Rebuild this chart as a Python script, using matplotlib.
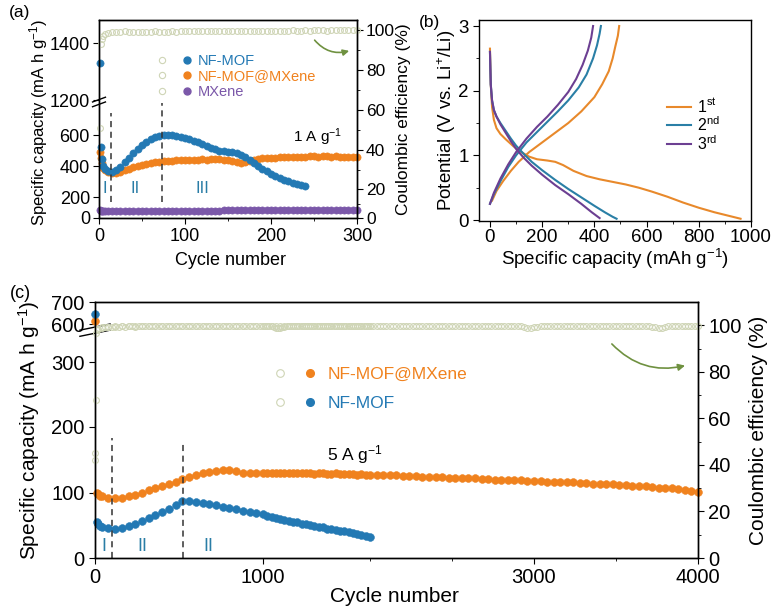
import numpy as np
import matplotlib.pyplot as plt
from matplotlib.lines import Line2D
from matplotlib.legend_handler import HandlerTuple

plt.rcParams['font.family'] = ['Liberation Sans', 'DejaVu Sans']
plt.rcParams['mathtext.fontset'] = 'custom'
plt.rcParams['mathtext.rm'] = 'Liberation Sans'
plt.rcParams['mathtext.it'] = 'Liberation Sans:italic'
plt.rcParams['axes.linewidth'] = 1.0
plt.rcParams['xtick.major.size'] = 4
plt.rcParams['ytick.major.size'] = 4
plt.rcParams['xtick.minor.size'] = 2.5
plt.rcParams['ytick.minor.size'] = 2.5

BLUE = '#2379b4'
ORANGE = '#f0821e'
PURPLE = '#7b58a9'
CE_COL = '#cfd5b6'
ROMAN = '#2a7da6'
ARROW = '#6f9140'

# ---------------- (a) cycling at 1 A/g ----------------
cycles_a = [1, 2, 3, 5, 7] + list(range(10, 301, 5))
cap_nfmof_a = [1330, 520, 445, 400, 380,
               368, 362, 372, 395, 425, 455, 485, 510, 535, 555,
               572, 585, 594, 600, 602, 600, 596, 590, 582, 572,
               562, 552, 541, 530, 518, 508, 500, 496, 492, 488,
               482, 472, 458, 440, 420, 400, 382, 365, 350, 336,
               324, 312, 302, 293, 285, 278, 272]
cap_comp_a = [490, 450, 420, 390, 372,
              360, 352, 355, 362, 372, 382, 392, 400, 408, 415,
              420, 425, 428, 430, 432, 434, 436, 438, 440, 440,
              442, 441, 443, 442, 444, 443, 444, 440, 436, 430,
              424, 420, 424, 432, 440, 446, 450, 452, 454, 455,
              456, 457, 458, 459, 460, 460, 461, 462, 462, 461,
              462, 462, 461, 462, 461, 461, 460, 460, 460]
cap_mxene_a = [75, 70, 68, 66, 65,
               64, 64, 64, 64, 65, 65, 65, 65, 66, 66,
               66, 66, 67, 67, 67, 68, 68, 68, 69, 69,
               69, 70, 70, 70, 71, 71, 71, 72, 72, 72,
               73, 73, 73, 74, 74, 74, 74, 75, 75, 75,
               75, 76, 76, 76, 76, 76, 77, 77, 77, 77,
               77, 77, 78, 78, 78, 78, 78, 78, 78]
ce_a = [51, 93, 95.5, 97, 98,
        98.4, 98.8, 99.0, 99.1, 99.3, 99.2, 99.0, 99.1, 99.2, 99.1,
        99.2, 99.3, 99.2, 99.1, 99.2, 99.3, 99.2, 99.3, 99.4, 99.3,
        99.4, 99.3, 99.4, 99.5, 99.4, 99.4, 99.5, 99.4, 99.5, 99.5,
        99.6, 99.5, 99.6, 99.5, 99.6, 99.6, 99.7, 99.6, 99.6, 99.7,
        99.6, 99.7, 99.7, 99.8, 99.7, 99.7, 99.8, 99.7, 99.8, 99.8,
        99.8, 99.7, 99.8, 99.8, 99.9, 99.8, 99.8, 99.9, 99.8]

# ---------------- (b) charge/discharge profiles ----------------
dis1_cap = [0, 3, 8, 15, 25, 40, 60, 90, 120, 150, 180, 220, 250, 280, 320, 370,
            420, 470, 520, 570, 620, 680, 740, 800, 860, 920, 960]
dis1_v = [2.65, 2.1, 1.75, 1.55, 1.42, 1.33, 1.25, 1.14, 1.05, 0.98, 0.94, 0.92, 0.9,
          0.85, 0.76, 0.68, 0.63, 0.59, 0.55, 0.5, 0.44, 0.36, 0.27, 0.19, 0.12, 0.06, 0.02]
chg1_cap = [8, 25, 50, 80, 110, 150, 200, 250, 300, 350, 400, 430, 455, 470, 480, 490, 495]
chg1_v = [0.3, 0.45, 0.6, 0.76, 0.9, 1.05, 1.2, 1.35, 1.5, 1.68, 1.9, 2.1, 2.3, 2.5, 2.68, 2.85, 3.0]
dis2_cap = [0, 3, 8, 15, 25, 40, 60, 80, 100, 130, 160, 200, 250, 300, 350, 400, 440, 470, 485]
dis2_v = [2.6, 2.1, 1.85, 1.7, 1.6, 1.5, 1.38, 1.26, 1.15, 1.02, 0.9, 0.77, 0.62, 0.48,
          0.35, 0.22, 0.12, 0.05, 0.02]
chg2_cap = [0, 15, 40, 70, 100, 140, 180, 220, 260, 300, 340, 370, 395, 410, 420, 425]
chg2_v = [0.25, 0.4, 0.6, 0.82, 1.0, 1.2, 1.36, 1.52, 1.68, 1.85, 2.05, 2.25, 2.5, 2.7, 2.88, 3.0]
dis3_cap = [0, 3, 8, 15, 25, 40, 60, 80, 100, 130, 160, 200, 250, 300, 350, 390, 420]
dis3_v = [2.6, 2.1, 1.85, 1.7, 1.6, 1.48, 1.35, 1.22, 1.1, 0.96, 0.84, 0.7, 0.54, 0.4,
          0.25, 0.12, 0.03]
chg3_cap = [0, 15, 40, 70, 100, 140, 180, 220, 260, 300, 330, 355, 375, 388, 395]
chg3_v = [0.25, 0.42, 0.64, 0.86, 1.05, 1.26, 1.44, 1.6, 1.78, 1.98, 2.18, 2.4, 2.62, 2.82, 3.0]

# ---------------- (c) long cycling at 5 A/g ----------------
cycles_c = [1, 10, 20, 30] + list(range(40, 4001, 40))
cap_comp_c = [615, 100, 98, 96,
              95, 93, 92, 93, 95, 97, 100, 104, 107, 110, 114, 117, 121, 124, 127,
              130, 132, 134, 135, 135, 133, 131, 130, 130, 130,
              130, 131, 130, 130, 131, 130, 130, 130, 131, 130, 130, 129, 130, 130,
              129, 129, 130, 129, 129, 129, 129, 128, 129, 128, 128,
              128, 127, 127, 127, 126, 126, 126, 125, 125, 124, 124, 123, 123, 122,
              122, 122, 121, 121, 120, 120, 120, 119, 119, 118, 118,
              118, 117, 117, 117, 116, 116, 115, 115, 114, 114, 113, 113, 112, 112,
              111, 111, 110, 109, 108, 108, 107, 106, 105, 103, 102]
cap_nfmof_c = [645, 55, 52, 50,
               48, 46, 45, 46, 49, 53, 57, 62, 66, 71, 76, 82, 87, 88, 86, 85,
               83, 81, 79, 77, 75, 73, 71, 69, 67,
               65, 63, 62, 60, 59, 57, 56, 55, 53, 52, 51, 49, 48, 47, 45, 44,
               43, 42, 41, 40, 38, 37, 36, 34, 33]
ce_cycles_c = [1, 5, 10] + list(range(20, 4001, 20))
ce_comp_c = [45, 96.5, 98.2,
             98.6, 99.0, 99.2, 99.3, 99.4, 99.3, 99.4, 99.5, 99.4, 99.5, 99.5, 99.4, 99.5, 99.6, 99.5, 99.5, 99.6, 99.5, 99.6, 99.6,
             99.5, 99.6, 99.6, 99.5, 99.6, 99.7, 99.6, 99.6, 99.7, 99.6, 99.6, 99.7, 99.6, 99.7, 99.7, 99.6, 99.7, 99.7, 99.6, 99.7,
             99.7, 99.6, 99.7, 99.7, 99.6, 99.7, 99.7, 99.6, 99.7, 99.7, 99.6, 99.7, 99.6, 99.5, 99.3, 99.0, 98.8, 98.9, 99.1, 99.3,
             99.5, 99.6, 99.6, 99.7, 99.7, 99.7, 99.6, 99.7, 99.7, 99.8, 99.7, 99.7, 99.6, 99.7, 99.7, 99.8, 99.7, 99.7, 99.7, 99.6,
             99.7, 99.7, 99.8, 99.7, 99.7, 99.6, 99.7, 99.7, 99.8, 99.7, 99.7, 99.7, 99.6, 99.7, 99.8, 99.7, 99.7, 99.7, 99.6, 99.7,
             99.7, 99.8, 99.7, 99.7, 99.6, 99.7, 99.7, 99.8, 99.7, 99.7, 99.6, 99.7, 99.7, 99.8, 99.7, 99.7, 99.6, 99.7, 99.7, 99.8,
             99.7, 99.7, 99.8, 99.7, 99.7, 99.6, 99.7, 99.8, 99.7, 99.7, 99.7, 99.8, 99.7, 99.7, 99.6, 99.7, 99.7, 99.8, 99.7, 99.7,
             99.7, 99.8, 99.7, 99.7, 99.7, 99.6, 99.3, 99.0, 98.9, 99.1, 99.4, 99.6, 99.7, 99.7, 99.8, 99.7, 99.7, 99.8, 99.7, 99.7,
             99.7, 99.7, 99.7, 99.8, 99.7, 99.7, 99.7, 99.8, 99.7, 99.7, 99.6, 99.7, 99.7, 99.8, 99.7, 99.7, 99.7, 99.8, 99.7, 99.7,
             99.7, 99.8, 99.7, 99.7, 99.6, 99.4, 99.1, 98.9, 99.0, 99.2, 99.5, 99.7, 99.7, 99.8, 99.7, 99.7, 99.8, 99.7, 99.7, 99.8]
ce_nf_cycles_c = [1, 3, 10] + list(range(40, 2001, 40))
ce_nfmof_c = [42, 68, 97.8,
              99.2, 99.4, 99.5, 99.5, 99.6, 99.5, 99.6, 99.6, 99.5, 99.6,
              99.6, 99.7, 99.6, 99.6, 99.7, 99.6, 99.7, 99.7, 99.6, 99.7,
              99.7, 99.6, 99.7, 99.7, 99.6, 99.7, 99.7, 99.6, 99.7, 99.7,
              99.7, 99.6, 99.7, 99.7, 99.7, 99.6, 99.7, 99.7, 99.7, 99.6,
              99.7, 99.7, 99.6, 99.7, 99.7, 99.7, 99.6, 99.7, 99.7, 99.7]


def broken(vals, pix):
    # piecewise linear axis (compressed / broken regions of the original)
    return (lambda v: np.interp(v, vals, pix), lambda p: np.interp(p, pix, vals))


def break_marks(ax, y):
    for dy in (-0.012, 0.012):
        ax.plot([-0.025, 0.025], [y + dy - 0.012, y + dy + 0.012], transform=ax.transAxes,
                color='k', lw=1.0, clip_on=False, zorder=10)


def dots(ax, x, y, color, ms=5.2):
    ax.plot(x, y, ls='none', marker='o', ms=ms, mfc=color, mec=color, mew=0.4, clip_on=False)


def hollow(ax, x, y, ms=4.2):
    ax.plot(x, y, ls='none', marker='o', ms=ms, mfc='none', mec=CE_COL, mew=0.8, clip_on=False)


fig = plt.figure(figsize=(7.71, 6.06), dpi=100)

# ===== panel (a)
ax_a = fig.add_axes([99 / 771, (606 - 218) / 606, 258 / 771, 198 / 606])
ax_a.set_yscale('function', functions=broken([-1000, 0, 200, 400, 600, 800, 1200, 1400, 3000],
                                             [-100, 0, 21, 52, 83, 114, 118, 175, 631]))
ax_a.set_xlim(0, 300)
ax_a.set_ylim(0, 1481)
dots(ax_a, cycles_a, cap_mxene_a, PURPLE)
dots(ax_a, cycles_a, cap_comp_a, ORANGE)
dots(ax_a, cycles_a[:len(cap_nfmof_a)], cap_nfmof_a, BLUE)
ax_a.set_xticks([0, 100, 200, 300])
ax_a.set_xticks([50, 150, 250], minor=True)
ax_a.set_yticks([0, 200, 400, 600, 1200, 1400])
ax_a.set_yticks([], minor=True)
ax_a.tick_params(labelsize=13)
ax_a.tick_params(axis='y', pad=2.5)
ax_a.set_xlabel('Cycle number', fontsize=13)
ax_a.set_ylabel('Specific capacity (mA h g$^{-1}$)', fontsize=12)
ax_a.xaxis.set_label_coords(0.51, -0.17)
ax_a.yaxis.set_label_coords(-0.19, 0.48)
break_marks(ax_a, 0.586)

for x in (14, 73):
    ax_a.plot([x, x], [152, 742 if x == 14 else 900], ls=(0, (4, 3)), color='#333333', lw=1.1)
for x, t in ((7, 'I'), (42, 'II'), (120, 'III')):
    ax_a.text(x, 258, t, color=ROMAN, fontsize=12, ha='center', va='center')
ax_a.text(254, 587, '1 A g$^{-1}$', fontsize=11, ha='center', va='center')

ax_a2 = ax_a.twinx()
ax_a2.set_yscale('function', functions=broken([-100, 0, 20, 40, 60, 80, 100, 200],
                                              [-290, 0, 29, 68, 108, 148, 188, 388]))
ax_a2.set_ylim(0, 105)
hollow(ax_a2, cycles_a, ce_a)
ax_a2.set_yticks([0, 20, 40, 60, 80, 100])
ax_a2.set_yticks([10, 30, 50, 70, 90], minor=True)
ax_a2.tick_params(labelsize=12.5, pad=2.5)
ax_a2.set_ylabel('Coulombic efficiency (%)', fontsize=12.5)
ax_a2.yaxis.set_label_coords(1.15, 0.5)
ax_a2.annotate('', xy=(0.98, 0.848), xytext=(0.829, 0.909), xycoords='axes fraction',
               arrowprops=dict(arrowstyle='-|>', color=ARROW, lw=1.2, mutation_scale=9,
                               connectionstyle='arc3,rad=0.35'))

h_ce = Line2D([], [], ls='none', marker='o', mfc='none', mec=CE_COL, ms=4.5, mew=0.8)
hs = [Line2D([], [], ls='none', marker='o', color=c, ms=5) for c in (BLUE, ORANGE, PURPLE)]
ax_a2.legend([(h_ce, h) for h in hs], ['NF-MOF', 'NF-MOF@MXene', 'MXene'],
             handler_map={tuple: HandlerTuple(ndivide=None, pad=0.8)},
             loc='upper left', bbox_to_anchor=(0.219, 0.83), frameon=False, fontsize=10.5,
             handlelength=2.6, handletextpad=0.3, labelspacing=0.12, borderpad=0,
             borderaxespad=0, numpoints=1, labelcolor=[BLUE, ORANGE, PURPLE])

# ===== panel (b)
ax_b = fig.add_axes([479 / 771, (606 - 221) / 606, 272 / 771, 201 / 606])
ax_b.plot(dis1_cap, dis1_v, color='#e8892b', lw=1.5, label='1$^{\\mathrm{st}}$')
ax_b.plot(chg1_cap, chg1_v, color='#e8892b', lw=1.5)
ax_b.plot(dis2_cap, dis2_v, color='#2a7fa6', lw=1.5, label='2$^{\\mathrm{nd}}$')
ax_b.plot(chg2_cap, chg2_v, color='#2a7fa6', lw=1.5)
ax_b.plot(dis3_cap, dis3_v, color='#6c3f92', lw=1.5, label='3$^{\\mathrm{rd}}$')
ax_b.plot(chg3_cap, chg3_v, color='#6c3f92', lw=1.5)
ax_b.set_xlim(-42, 1000)
ax_b.set_ylim(-0.015, 3.093)
ax_b.set_xticks([0, 200, 400, 600, 800, 1000])
ax_b.set_xticks([100, 300, 500, 700, 900], minor=True)
ax_b.set_yticks([0, 1, 2, 3])
ax_b.set_yticks([0.5, 1.5, 2.5], minor=True)
ax_b.tick_params(labelsize=13.5)
ax_b.tick_params(axis='x', pad=1.5)
ax_b.set_xlabel('Specific capacity (mAh g$^{-1}$)', fontsize=13.5)
ax_b.set_ylabel('Potential (V vs. Li$^{+}$/Li)', fontsize=13.5)
ax_b.xaxis.set_label_coords(0.5, -0.13)
ax_b.yaxis.set_label_coords(-0.077, 0.5)
ax_b.legend(loc='upper left', bbox_to_anchor=(0.691, 0.615), frameon=False, fontsize=11.5,
            handlelength=1.5, handletextpad=0.35, labelspacing=0.0, borderpad=0, borderaxespad=0)

# ===== panel (c)
ax_c = fig.add_axes([95 / 771, (606 - 558) / 606, 603 / 771, 256 / 606])
ax_c.set_xscale('function', functions=broken([-1000, 0, 1000, 2000, 3000, 4000, 5000],
                                             [-168, 0, 168, 275, 439, 603, 767]))
ax_c.set_yscale('function', functions=broken([-100, 0, 100, 200, 300, 600, 700, 800],
                                             [-65, 0, 65, 131, 196, 234, 256, 278]))
ax_c.set_xlim(0, 4000)
ax_c.set_ylim(0, 700)
dots(ax_c, cycles_c, cap_comp_c, ORANGE, ms=5.6)
dots(ax_c, cycles_c[:len(cap_nfmof_c)], cap_nfmof_c, BLUE, ms=5.6)
ax_c.set_xticks([0, 1000, 3000, 4000])
ax_c.set_xticks([2000, 2500, 3500], minor=True)
ax_c.set_yticks([0, 100, 200, 300, 600, 700])
ax_c.set_yticks([], minor=True)
ax_c.tick_params(labelsize=14.5)
ax_c.set_xlabel('Cycle number', fontsize=15)
ax_c.set_ylabel('Specific capacity (mA h g$^{-1}$)', fontsize=15)
ax_c.xaxis.set_label_coords(0.497, -0.115)
ax_c.yaxis.set_label_coords(-0.088, 0.5)
break_marks(ax_c, 0.89)

ax_c.plot([101, 101], [0, 183], ls=(0, (4, 3)), color='#333333', lw=1.1)
ax_c.plot([524, 524], [0, 175], ls=(0, (4, 3)), color='#333333', lw=1.1)
for x, t in ((53, 'I'), (280, 'II'), (672, 'II')):
    ax_c.text(x, 17, t, color=ROMAN, fontsize=13, ha='center', va='center')
ax_c.text(1860, 158, '5 A g$^{-1}$', fontsize=12.5, ha='center', va='center')

ax_c2 = ax_c.twinx()
ax_c2.set_ylim(0, 110)
hollow(ax_c2, ce_cycles_c, ce_comp_c, ms=4.2)
hollow(ax_c2, ce_nf_cycles_c, ce_nfmof_c, ms=4.2)
ax_c2.set_yticks([0, 20, 40, 60, 80, 100])
ax_c2.set_yticks([10, 30, 50, 70, 90], minor=True)
ax_c2.tick_params(labelsize=14.5)
ax_c2.set_ylabel('Coulombic efficiency (%)', fontsize=15)
ax_c2.yaxis.set_label_coords(1.085, 0.5)
ax_c2.annotate('', xy=(0.983, 0.754), xytext=(0.854, 0.844), xycoords='axes fraction',
               arrowprops=dict(arrowstyle='-|>', color=ARROW, lw=1.2, mutation_scale=10,
                               connectionstyle='arc3,rad=0.3'))
hs_c = [Line2D([], [], ls='none', marker='o', color=c, ms=5.5) for c in (ORANGE, BLUE)]
h_ce_c = Line2D([], [], ls='none', marker='o', mfc='none', mec=CE_COL, ms=5.5, mew=0.8)
ax_c2.legend([(h_ce_c, h) for h in hs_c], ['NF-MOF@MXene', 'NF-MOF'],
             handler_map={tuple: HandlerTuple(ndivide=None, pad=0.96)},
             loc='upper left', bbox_to_anchor=(0.295, 0.748), frameon=False, fontsize=12.5,
             handlelength=2.56, handletextpad=0.6, labelspacing=0.8, borderpad=0,
             borderaxespad=0, numpoints=1, labelcolor=[ORANGE, BLUE])

fig.text(20 / 771, 1 - 12 / 606, '(a)', fontsize=12.5, ha='center', va='center')
fig.text(430 / 771, 1 - 22 / 606, '(b)', fontsize=12.5, ha='center', va='center')
fig.text(20 / 771, 1 - 293 / 606, '(c)', fontsize=13, ha='center', va='center')

fig.savefig('out.png', dpi=100)
